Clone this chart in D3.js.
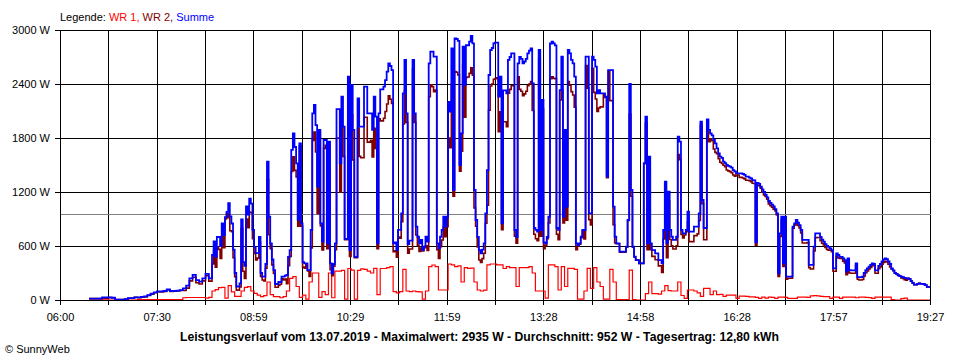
<!DOCTYPE html>
<html><head><meta charset="utf-8">
<script src="https://cdn.jsdelivr.net/npm/d3@7"></script>
<style>
body{margin:0;background:#fff}
svg{display:block}
text{font-family:"Liberation Sans",Arial,sans-serif;}
</style>
</head><body>
<svg id="c" width="960" height="360"></svg>
<script>
// ---------- data ----------
const chartTitle = "Leistungsverlauf vom 13.07.2019 - Maximalwert: 2935 W - Durchschnitt: 952 W - Tagesertrag: 12,80 kWh";
const copyright = "© SunnyWeb";
const legendLabels = ["Legende:", " WR 1,", " WR 2,", " Summe"];
const seriesNames = ["WR 1", "WR 2", "Summe"];
const yTicks = [0, 600, 1200, 1800, 2400, 3000];
const xTickLabels = ["06:00","07:30","08:59","10:29","11:59","13:28","14:58","16:28","17:57","19:27"];
const day = "2019-07-13";
const dayStart = "06:00", dayEnd = "19:27";
const averageW = 952;
const sampleStart = "06:27";
const fineStepMin = 1.5;   // Summe and WR 2 samples
const wr1StepMin = 3;      // WR 1 samples

const summe = [
15,15,15,15,15,15,15,15,30,30,30,30,28,28,25,25,5,5,5,5,
5,5,10,10,20,20,20,20,30,30,30,30,35,35,40,40,55,55,70,70,
85,85,95,95,95,95,100,100,118,118,100,100,102,102,105,105,110,110,130,130,
160,160,240,240,280,280,220,220,205,205,240,240,290,290,240,240,500,650,480,700,
700,600,850,720,920,980,1075,930,850,560,300,150,150,185,896,420,380,1040,950,1125,
1070,780,590,520,520,700,300,260,260,400,1537,925,630,450,333,178,178,200,200,260,
260,270,280,480,555,1667,1850,1700,1518,890,1740,850,420,407,407,333,333,778,2074,2167,
1944,1260,1890,852,650,1778,1778,630,1760,407,296,400,630,2120,2120,1518,2260,1926,680,680,
2481,555,2390,1890,480,480,2240,1926,1926,1926,2370,2370,2074,2074,2074,1890,2260,2037,630,2074,
2340,2340,2370,2444,2537,2630,2600,2555,630,640,555,780,780,963,2296,2667,2074,620,660,660,
2667,2074,815,703,630,667,555,592,703,650,2630,2760,2760,2704,2704,630,574,703,778,925,
815,925,2200,2093,2796,1222,2907,2900,2880,1500,1852,2815,2390,2833,2830,2870,2935,2852,1222,889,
700,555,518,560,630,963,1444,2500,2778,2800,2852,2860,2860,2260,2481,852,2330,2330,2296,2667,
2700,2740,2740,778,700,2630,2700,2680,2630,2650,2680,2740,2770,2796,2407,800,780,760,2778,778,
2222,640,630,700,925,2850,2870,2852,2830,800,780,2333,2704,925,1890,1037,2778,2740,2667,2630,
2481,630,610,630,703,778,778,2704,2704,963,963,2704,2667,2593,2296,2333,2296,2296,2296,2260,
1370,2555,2555,2555,1037,703,630,630,537,537,537,537,592,889,2400,1222,592,481,444,444,
407,407,407,1518,2037,630,1593,630,555,555,518,518,444,444,407,778,1315,630,1204,778,
703,667,667,703,1815,1760,778,740,740,778,981,760,760,760,815,815,815,963,1981,1111,
800,800,2007,1890,1850,1830,1778,1740,1685,1630,1593,1580,1537,1520,1500,1490,1481,1470,1444,1430,
1407,1407,1407,1407,1400,1390,1370,1370,1360,1350,1333,1330,640,1300,1290,1260,1230,1200,1170,1140,
1100,1080,1060,1040,1010,963,296,740,925,407,925,260,260,260,260,815,852,889,860,833,
778,667,667,667,667,390,390,390,592,740,740,740,700,670,648,620,600,590,574,555,
352,352,518,500,480,480,463,444,315,463,333,330,330,330,407,255,255,255,260,300,
333,352,370,389,407,400,330,330,380,400,430,450,463,455,430,400,350,330,300,290,
275,265,260,255,245,240,240,235,210,190,170,170,180,185,180,180,175,165,145,145,
145];

const wr2 = [
15,15,15,15,15,15,15,15,20,20,20,20,28,28,25,25,5,5,5,5,
5,5,10,10,20,20,20,20,30,30,25,25,30,30,35,35,50,50,65,65,
80,80,90,90,90,90,95,95,113,113,95,95,97,97,100,100,105,105,105,105,
132,132,212,212,252,252,192,192,177,177,212,212,270,270,210,210,400,550,365,585,
563,463,710,580,900,960,915,770,760,470,260,110,110,145,796,320,240,900,802,977,
970,680,516,446,465,645,263,223,212,352,1337,725,570,390,296,141,141,163,175,235,
223,233,180,380,485,1427,1590,1440,1368,820,1710,820,365,352,397,323,263,578,1774,1867,
1644,960,1860,822,557,1685,1718,570,1460,337,271,375,560,1800,1800,1198,1930,1596,670,670,
2131,485,2057,1557,470,470,1910,1596,1581,1581,2030,2030,1754,1754,1774,1590,1908,1685,570,2014,
1990,1990,2020,2094,2177,2270,2230,2185,537,547,475,700,687,870,1956,2327,1974,520,567,567,
2567,1974,722,610,540,577,545,582,603,550,2260,2390,2371,2315,2334,560,463,592,667,814,
704,814,1800,1693,2406,1152,2537,2530,2500,1430,1652,2615,2030,2473,2478,2518,2580,2497,1022,819,
589,444,418,460,520,853,1054,2110,2378,2400,2452,2460,2470,1870,2091,782,1980,1980,1926,2297,
2340,2380,2380,708,630,2480,2340,2320,2270,2290,2320,2380,2400,2426,2107,730,680,660,2678,708,
2122,570,610,680,855,2460,2480,2462,2460,730,669,2222,2334,855,1740,887,2426,2388,2315,2278,
2141,560,600,620,693,768,678,2604,2352,893,833,2574,2307,2233,2096,2133,2146,2146,2286,2250,
1360,2545,2215,2215,837,633,625,625,532,532,532,532,587,884,2067,1152,587,476,444,444,
407,407,407,1518,1967,560,1393,560,485,485,448,448,379,379,307,678,1155,470,1099,673,
603,567,567,603,1615,1560,728,690,722,760,870,649,649,649,715,715,735,883,1941,1071,
670,670,1877,1760,1790,1770,1678,1640,1625,1570,1530,1517,1497,1480,1445,1435,1426,1415,1389,1375,
1389,1389,1363,1363,1356,1346,1330,1330,1325,1315,1298,1295,610,1270,1272,1242,1197,1167,1150,1120,
1067,1047,1030,1010,992,945,263,707,892,374,895,230,242,242,242,797,834,871,827,800,
745,634,634,634,637,360,345,345,544,692,695,695,660,630,611,583,563,553,556,537,
319,319,485,467,462,462,430,411,282,430,300,297,297,297,382,230,222,222,227,267,
303,322,344,363,389,382,297,297,347,367,397,417,430,422,397,367,345,325,300,290,
275,265,245,240,225,220,240,235,210,190,170,170,180,185,180,180,175,165,145,145,
145];

const wr1 = [0,0,0,0,10,10,0,0,0,0,
0,0,0,0,0,5,5,5,5,5,
5,5,5,5,5,5,5,5,5,25,
28,28,28,28,28,28,20,30,100,115,
137,140,20,160,90,40,40,100,140,148,
100,74,55,37,48,200,60,37,37,25,
37,100,240,260,150,30,55,10,200,300,
300,30,93,60,300,25,320,320,330,10,
350,333,10,330,345,340,320,300,352,60,
350,350,360,370,93,80,93,340,100,93,
100,93,90,10,100,370,389,370,111,111,
111,400,390,370,380,200,360,352,355,200,
111,100,110,390,400,400,390,390,350,370,
360,360,150,360,360,360,370,300,100,100,
100,20,390,390,370,111,370,150,352,352,
340,10,10,100,352,130,360,200,150,10,
10,340,200,5,5,5,5,333,5,0,
0,0,70,200,70,70,65,100,160,105,
100,100,200,50,18,111,111,100,80,40,
130,130,60,100,60,63,40,55,55,55,
18,44,44,40,35,35,30,18,33,20,
33,30,18,33,33,30,18,18,18,33,
33,33,30,45,48,45,40,37,37,18,
33,33,18,33,33,33,33,25,33,33,
30,26,18,33,33,33,33,33,5,0,
0,15,20,0,0,0,0,0,0,0,
0];

const colors = {"WR 1":"#ff0000","WR 2":"#800000","Summe":"#0000ff"};

// ---------- layout ----------
const L = 60, R = 930, T = 30, B = 300;
const svg = d3.select("#c");
svg.append("rect").attr("width",960).attr("height",360).attr("fill","#fff");

const parse = d3.timeParse("%Y-%m-%d %H:%M");
const t0 = parse(day + " " + dayStart), t1 = parse(day + " " + dayEnd);
const s0 = parse(day + " " + sampleStart);
const x = d3.scaleTime().domain([t0, t1]).range([L, R]);
const y = d3.scaleLinear().domain([0, d3.max(yTicks)]).range([B, T]);

const nGrid = (xTickLabels.length - 1) * 2;
const gridTimes = d3.range(nGrid + 1).map(i => new Date(+t0 + (t1 - t0) * i / nGrid));
const px = v => Math.round(v) + 0.5;

// grid
const g = svg.append("g").attr("shape-rendering","crispEdges");
g.selectAll("line.v").data(gridTimes).join("line")
  .attr("x1", d => px(x(d))).attr("x2", d => px(x(d)))
  .attr("y1", y(d3.max(yTicks)) + 0.5).attr("y2", B + 0.5)
  .attr("stroke","#000").attr("stroke-width",1);
g.selectAll("line.h").data(yTicks).join("line")
  .attr("x1", L + 0.5).attr("x2", R + 0.5)
  .attr("y1", d => px(y(d))).attr("y2", d => px(y(d)))
  .attr("stroke","#000").attr("stroke-width",1);
g.append("line").attr("x1", L + 0.5).attr("x2", R + 0.5)
  .attr("y1", px(y(averageW))).attr("y2", px(y(averageW)))
  .attr("stroke","#808080").attr("stroke-width",1);

// series
const seriesData = {"WR 1": wr1, "WR 2": wr2, "Summe": summe};
const steps = {"WR 1": wr1StepMin, "WR 2": fineStepMin, "Summe": fineStepMin};
const widths = {"WR 1":1.2, "WR 2":1.6, "Summe":1.8};
seriesNames.forEach(n => {
  const st = steps[n];
  const line = d3.line()
    .x((d, i) => x(new Date(+s0 + i * st * 60000)))
    .y(d => y(d)).curve(d3.curveStepAfter);
  svg.append("path").attr("d", line(seriesData[n])).attr("fill","none")
    .attr("stroke", colors[n]).attr("stroke-width", widths[n])
    .attr("stroke-linejoin","miter").attr("stroke-linecap","butt");
});

// axes
const yAxis = d3.axisLeft(y).tickValues(yTicks).tickSize(5).tickPadding(5).tickFormat(d => d + " W");
const ya = svg.append("g").attr("transform", `translate(${L},0)`).call(yAxis);
ya.select(".domain").remove();
const xAxis = d3.axisBottom(x).tickValues(gridTimes).tickSize(5).tickPadding(8)
  .tickFormat((d, i) => i % 2 === 0 ? xTickLabels[i / 2] : "");
const xa = svg.append("g").attr("transform", `translate(0,${B})`).call(xAxis);
xa.select(".domain").remove();
[ya, xa].forEach(a => {
  a.selectAll("text").attr("font-size", 11).attr("font-family", '"Liberation Sans",Arial,sans-serif').attr("fill","#000");
  a.selectAll("line").attr("stroke","#000").attr("shape-rendering","crispEdges");
});

// axis lines on top
const ax = svg.append("g").attr("shape-rendering","crispEdges");
ax.append("line").attr("x1", L + 0.5).attr("x2", L + 0.5).attr("y1", T).attr("y2", B + 1).attr("stroke","#000");
ax.append("line").attr("x1", L).attr("x2", R + 1).attr("y1", B + 0.5).attr("y2", B + 0.5).attr("stroke","#000");

// legend
const legColors = ["#000", colors["WR 1"], colors["WR 2"], colors["Summe"]];
const leg = svg.append("text").attr("x", 60).attr("y", 21).attr("font-size", 11).attr("xml:space","preserve");
legendLabels.forEach((l, i) => leg.append("tspan").attr("fill", legColors[i]).text(l));

// title
svg.append("text").attr("x", 479.5).attr("y", 340.5).attr("text-anchor","middle")
  .attr("font-size", 12).attr("font-weight","bold").attr("fill","#000")
  .attr("textLength", 599).attr("lengthAdjust","spacingAndGlyphs").text(chartTitle);
svg.append("text").attr("x", 5).attr("y", 353).attr("font-size", 11).attr("fill","#000").text(copyright);
</script>
</body></html>
